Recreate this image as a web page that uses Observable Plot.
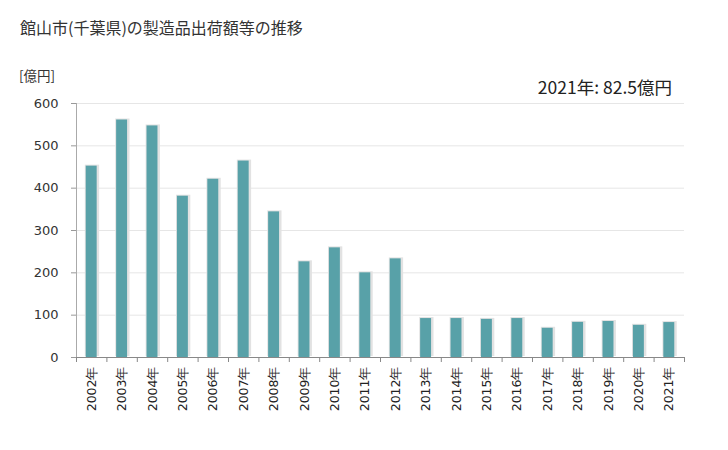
<!DOCTYPE html>
<html><head><meta charset="utf-8">
<script src="https://cdn.jsdelivr.net/npm/d3@7"></script>
<script src="https://cdn.jsdelivr.net/npm/@observablehq/plot@0.6"></script>
<style>
body{margin:0;background:#fff;font-family:"Noto Sans CJK JP","DejaVu Sans",sans-serif;}
#wrap{position:relative;width:728px;height:450px;}
#title{position:absolute;left:20px;top:15px;font-size:16px;color:#333;}
#unit{position:absolute;left:19px;top:65px;font-size:13.5px;color:#333;}
#note{position:absolute;right:56px;top:74px;font-size:17.5px;color:#222;}
</style></head><body>
<div id="wrap">
<div id="title">館山市(千葉県)の製造品出荷額等の推移</div>
<div id="unit">[億円]</div>
<div id="note">2021年: 82.5億円</div>
</div>
<script>
const years = [2002,2003,2004,2005,2006,2007,2008,2009,2010,2011,2012,2013,2014,2015,2016,2017,2018,2019,2020,2021];
const values = [452,561,547,381,421,464,344,226,259,200,233,92,92,90,92,69,83,85,76,82.5];
const yTicks = [0,100,200,300,400,500,600];
const data = years.map((y,i)=>({year:y, value:values[i]}));
const bounds = [...years.map(y=>y-0.5), years[years.length-1]+0.5];
const hw = 0.18;
const chart = Plot.plot({
  width:728, height:450,
  marginLeft:76, marginRight:44, marginTop:103, marginBottom:93,
  style:{fontFamily:"DejaVu Sans, sans-serif", fontSize:"13px", color:"#333", background:"transparent"},
  x:{type:"linear", domain:[2001.5,2021.5]},
  y:{domain:[0,600]},
  marks:[
    Plot.gridY(yTicks,{stroke:"#e6e6e6", strokeOpacity:1}),
    Plot.rectY(data,{x1:d=>d.year-hw-0.03, x2:d=>d.year+hw+0.08, y:"value", fill:"#e2e2e2", dy:-1}),
    Plot.rectY(data,{x1:d=>d.year-hw, x2:d=>d.year+hw, y:"value", fill:"#58a1a8"}),
    Plot.axisY(yTicks,{tickSize:5, tickPadding:13, stroke:"#999", label:null, fontSize:13}),
    Plot.ruleX([2001.5],{stroke:"#aaa"}),
    Plot.ruleY([0],{stroke:"#888"}),
    Plot.axisX(bounds,{tickSize:5, tickFormat:()=>"", stroke:"#888", label:null}),
    Plot.axisX(years,{tickSize:0, tickPadding:9, tickRotate:-90, tickFormat:d=>d+"年", label:null, fontSize:12.5, fill:"#222"})
  ]
});
document.getElementById("wrap").prepend(chart);
chart.style.position="absolute"; chart.style.left="0"; chart.style.top="0";
</script>
</body></html>
